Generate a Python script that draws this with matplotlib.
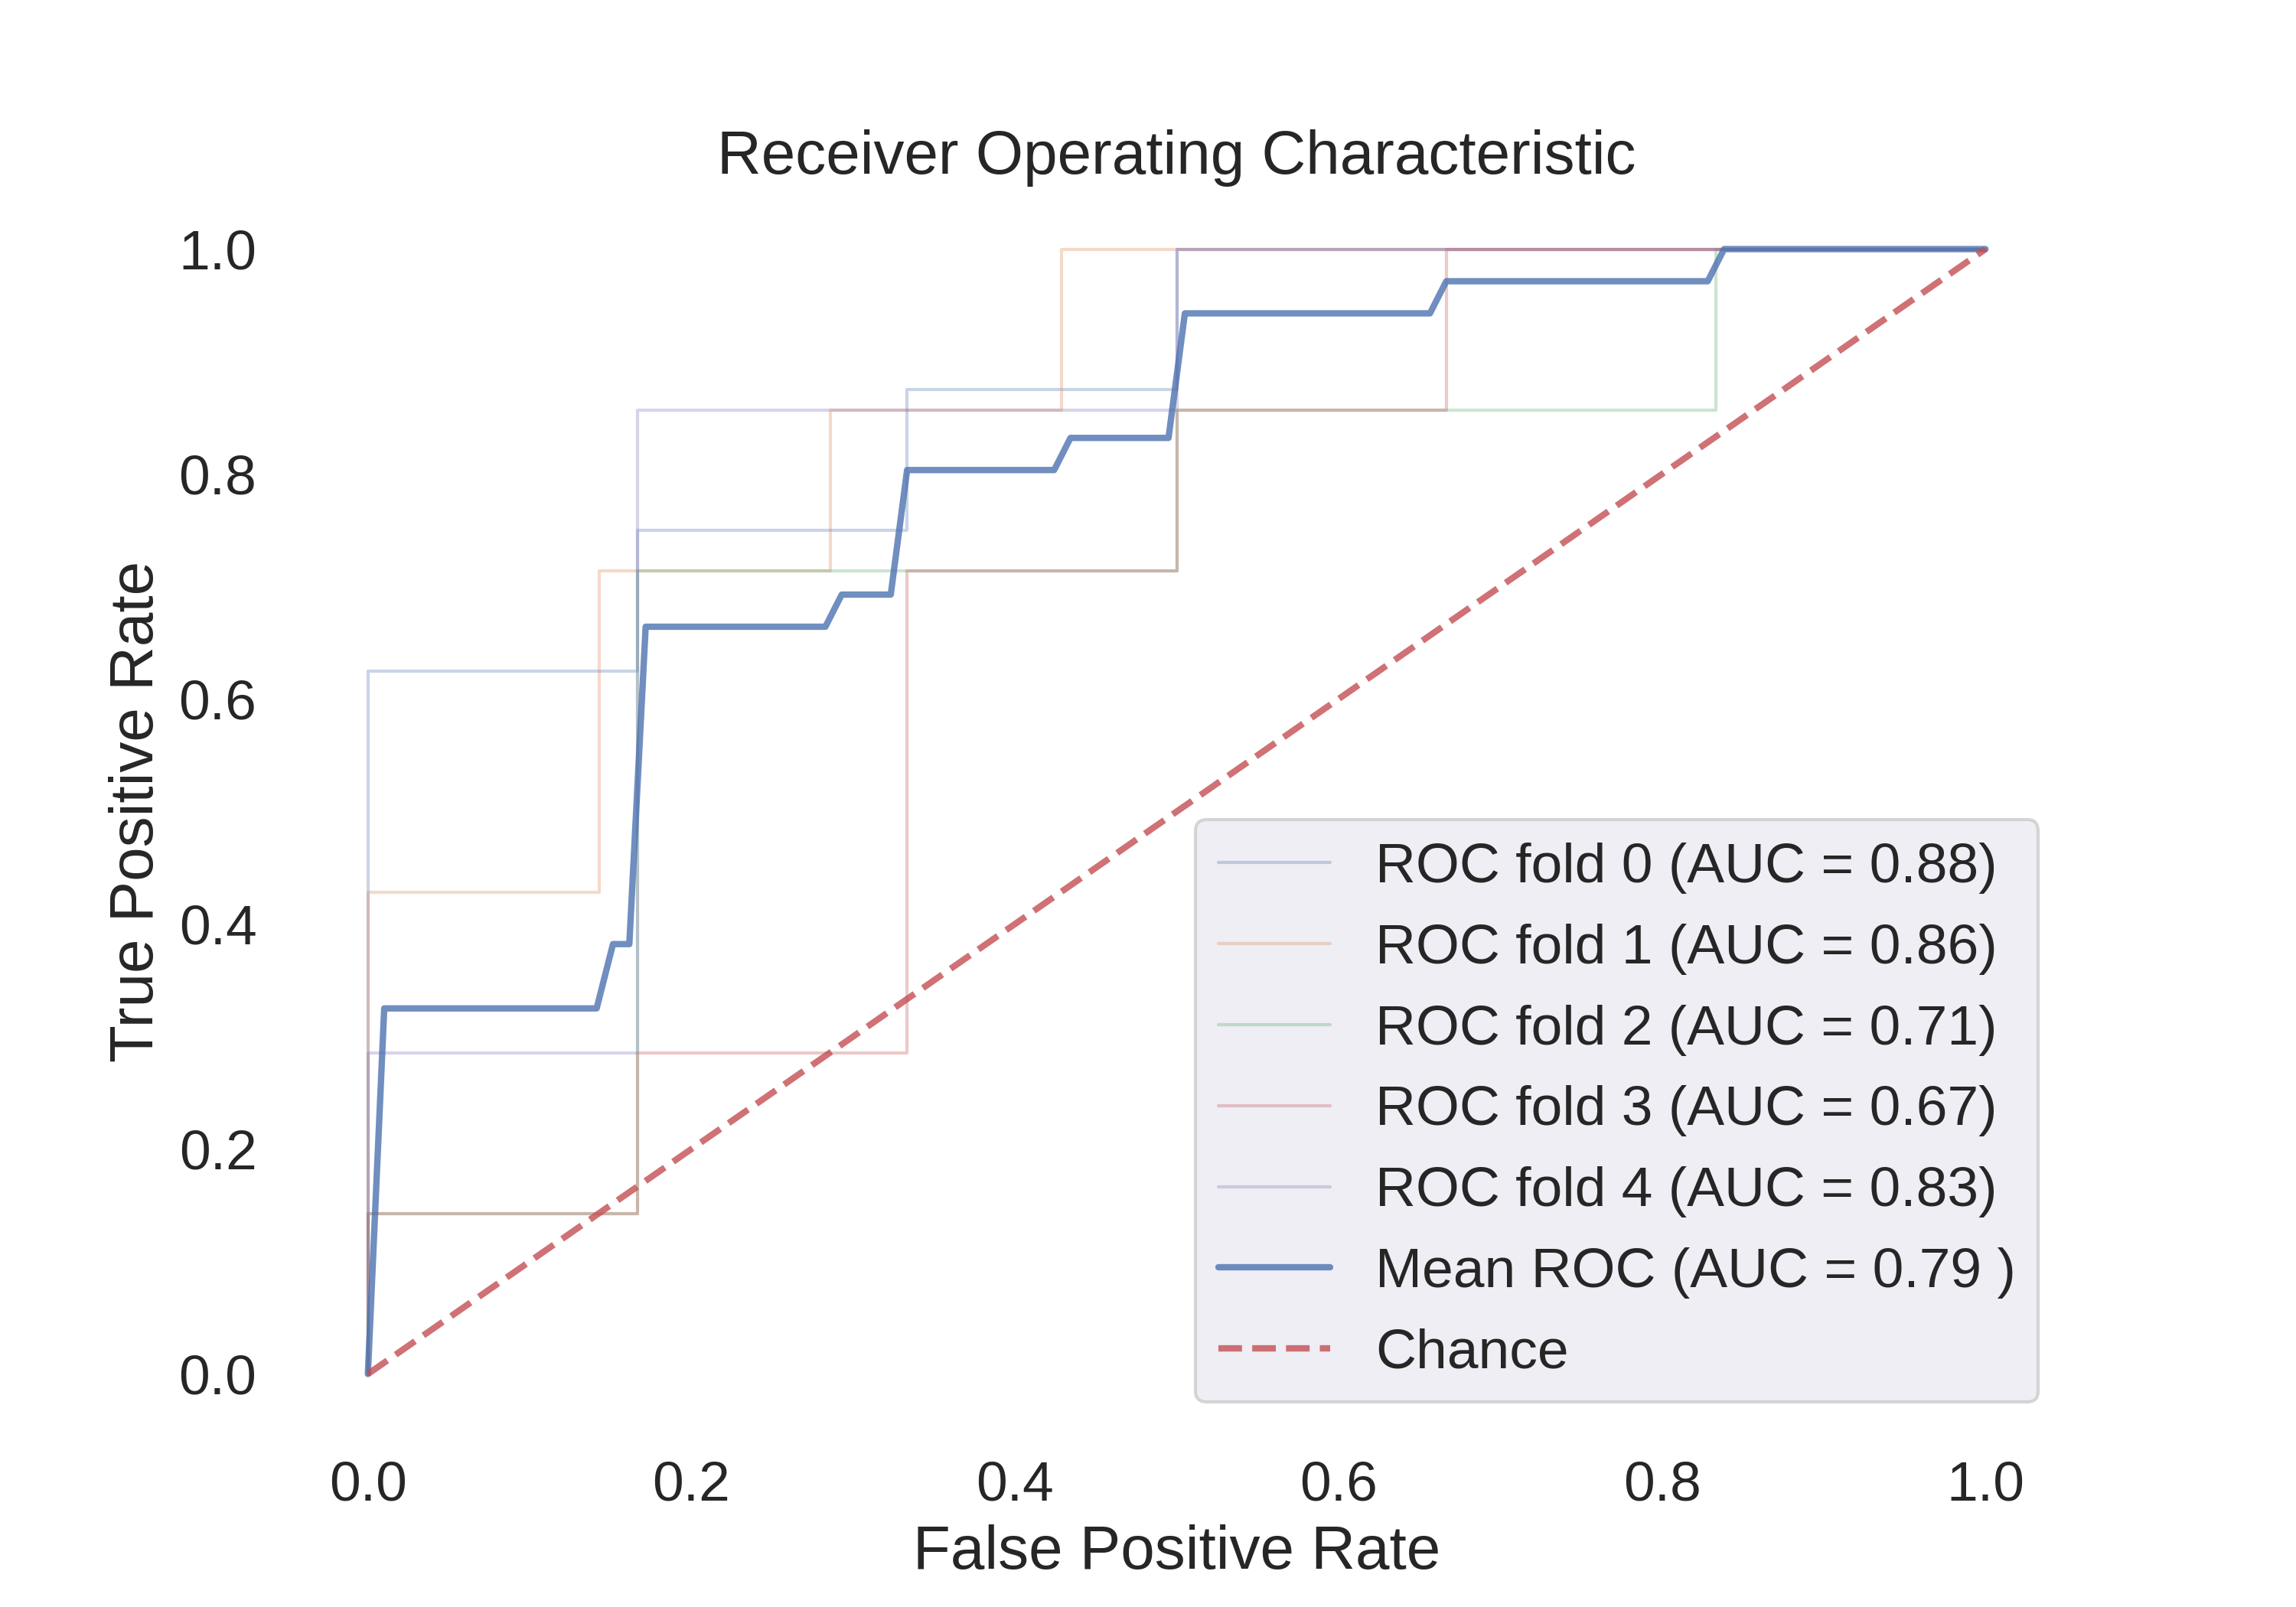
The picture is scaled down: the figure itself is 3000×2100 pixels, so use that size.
import numpy as np
import matplotlib
matplotlib.use("Agg")
import matplotlib.pyplot as plt

# ---- data ----
fold_fpr = [
    [0, 0, 1/6, 1/6, 1/3, 1/3, 1/2, 1/2, 1],
    [0, 0, 1/7, 1/7, 2/7, 2/7, 3/7, 3/7, 1],
    [0, 0, 1/6, 1/6, 1/2, 1/2, 5/6, 5/6, 1],
    [0, 0, 1/6, 1/6, 1/3, 1/3, 1/2, 1/2, 2/3, 2/3, 1],
    [0, 0, 1/6, 1/6, 1/2, 1/2, 1],
]
fold_tpr = [
    [0, 0.625, 0.625, 0.75, 0.75, 0.875, 0.875, 1, 1],
    [0, 3/7, 3/7, 5/7, 5/7, 6/7, 6/7, 1, 1],
    [0, 1/7, 1/7, 5/7, 5/7, 6/7, 6/7, 1, 1],
    [0, 1/7, 1/7, 2/7, 2/7, 5/7, 5/7, 6/7, 6/7, 1, 1],
    [0, 2/7, 2/7, 6/7, 6/7, 1, 1],
]
fold_auc = [0.88, 0.86, 0.71, 0.67, 0.83]
mean_auc = 0.79
n_grid = 100

plt.rcParams.update({
    "font.family": ["Liberation Sans", "DejaVu Sans"],
    "text.color": "#262626",
    "axes.labelcolor": "#262626",
    "xtick.color": "#262626",
    "ytick.color": "#262626",
    "lines.solid_capstyle": "round",
    "xtick.major.size": 6,
    "ytick.major.size": 6,
})

palette = ["#4C72B0", "#DD8452", "#55A868", "#C44E52", "#8172B3"]

fig = plt.figure(figsize=(10, 7), dpi=300)
ax = fig.add_subplot(111)
ax.set_facecolor("white")
for s in ax.spines.values():
    s.set_visible(False)

mean_fpr = np.linspace(0, 1, n_grid)
tprs = []
for i, (f, t) in enumerate(zip(fold_fpr, fold_tpr)):
    ax.plot(f, t, lw=1, alpha=0.3, color=palette[i % len(palette)],
            label="ROC fold %d (AUC = %0.2f)" % (i, fold_auc[i]))
    it = np.interp(mean_fpr, f, t)
    it[0] = 0.0
    tprs.append(it)

mean_tpr = np.mean(tprs, axis=0)
mean_tpr[-1] = 1.0
ax.plot(mean_fpr, mean_tpr, color="#4C72B0", lw=2, alpha=0.8,
        label="Mean ROC (AUC = %0.2f )" % mean_auc)
ax.plot([0, 1], [0, 1], linestyle="--", lw=2, color="#C44E52", alpha=0.8,
        label="Chance")

ax.set_xlim(-0.05, 1.05)
ax.set_ylim(-0.05, 1.05)
ax.set_xticks([0.0, 0.2, 0.4, 0.6, 0.8, 1.0])
ax.set_yticks([0.0, 0.2, 0.4, 0.6, 0.8, 1.0])
ax.tick_params(axis="both", labelsize=17.6, bottom=False, left=False)
ax.set_xlabel("False Positive Rate", fontsize=19.2)
ax.set_ylabel("True Positive Rate", fontsize=19.2)
ax.set_title("Receiver Operating Characteristic", fontsize=19.2)

leg = ax.legend(loc="lower right", fontsize=17.6, facecolor="#EAEAF2",
                edgecolor="0.8", framealpha=0.8, labelspacing=0.53)

fig.savefig("out.png", dpi=300, facecolor="white")
